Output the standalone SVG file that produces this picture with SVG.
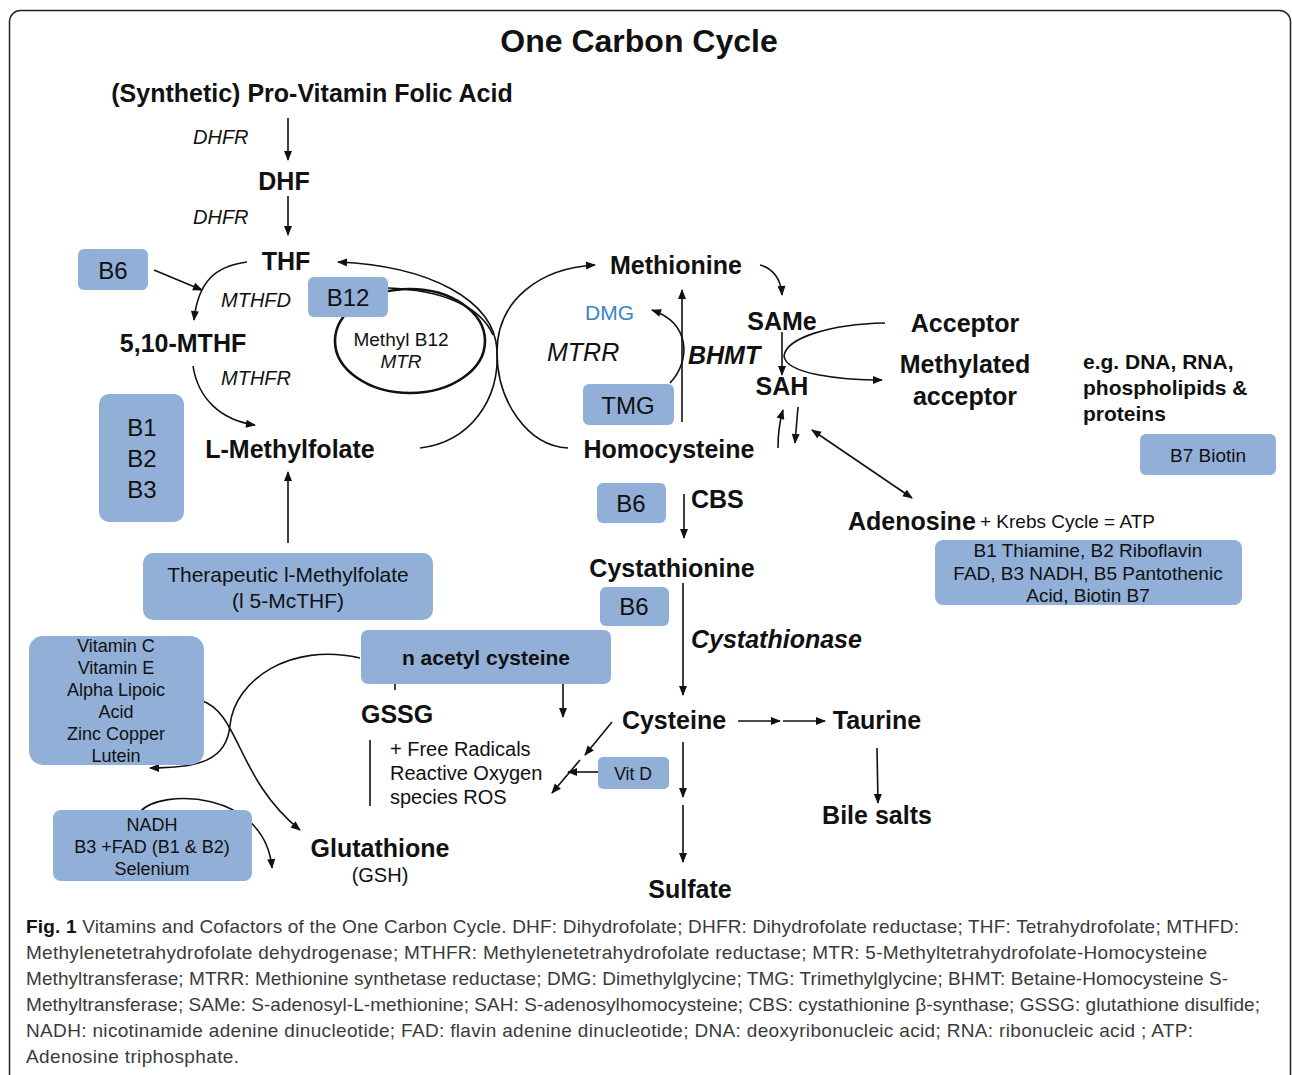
<svg xmlns="http://www.w3.org/2000/svg" width="1292" height="1075" viewBox="0 0 1292 1075">
<defs>
<marker id="ah" viewBox="0 0 10 10" refX="9" refY="5" markerWidth="11" markerHeight="10" markerUnits="userSpaceOnUse" orient="auto-start-reverse">
<path d="M0,1 L10,5 L0,9 z" fill="#111"/>
</marker>
<style>
text{font-family:"Liberation Sans",Arial,sans-serif;fill:#111}
.n{font-size:25px;font-weight:bold}
.c{text-anchor:middle}
.e{font-size:20px;font-style:italic}
.box{fill:#91afd7;stroke:none}
.bt{font-size:24px}
.st{font-size:19px}
.ln{fill:none;stroke:#111;stroke-width:1.6}
.a{marker-end:url(#ah)}
.cap{font-size:19px;fill:#3a3a3a}
</style>
</defs>
<rect x="9.5" y="10.5" width="1281" height="1100" rx="11" fill="#fff" stroke="#222" stroke-width="1.5"/>
<text x="639" y="52" class="c" style="font-size:32px;font-weight:bold">One Carbon Cycle</text>

<g id="connectors">
<path class="ln a" d="M288 118 V160"/>
<path class="ln a" d="M288 196 V235"/>
<path class="ln a" d="M154 270 L202 290"/>
<path class="ln a" d="M247 262 C215 266 198 282 194 320"/>
<path class="ln a" d="M193 366 C198 398 220 420 255 425"/>
<path class="ln a" d="M288 543 V472"/>
<ellipse cx="410" cy="341" rx="75" ry="52" fill="none" stroke="#111" stroke-width="2.6"/>
<path class="ln a" d="M420 448 C470 442 500 400 497 350 C494 300 430 266 338 262"/>
<path class="ln" d="M388 288 C440 290 480 305 493 335"/>
<path class="ln a" d="M568 448 C528 446 497 402 497 352 C497 300 540 268 595 265"/>
<path class="ln a" d="M760 265 C772 268 781 278 782 295"/>
<path class="ln a" d="M682 422 V290"/>
<path class="ln a" d="M670 383 C690 362 692 324 652 310"/>
<path class="ln a" d="M782 332 V375"/>
<path class="ln a" d="M885 323 C830 324 786 338 784 356 C786 374 840 380 882 380"/>
<path class="ln a" d="M778 448 C778 432 780 420 783 410"/>
<path class="ln a" d="M798 407 L795 443"/>
<path class="ln a" d="M912 498 L812 430" style="marker-start:url(#ah)"/>
<path class="ln a" d="M684 494 V538"/>
<path class="ln a" d="M683 583 V695"/>
<path class="ln a" d="M738 721 H780"/>
<path class="ln a" d="M783 721 H825"/>
<path class="ln a" d="M877 748 L878 803"/>
<path class="ln a" d="M683 742 V797"/>
<path class="ln a" d="M683 805 V862"/>
<path class="ln a" d="M612 722 L585 755"/>
<path class="ln a" d="M580 760 L552 793"/>
<path class="ln a" d="M598 772 H568"/>
<path class="ln a" d="M563 684 V717"/>
<path class="ln" d="M395 684 V690"/>
<path class="ln" d="M370 740 V806"/>
<path class="ln a" d="M360 658 C290 642 235 680 230 725 C227 760 200 768 150 768"/>
<path class="ln a" d="M200 700 C240 712 236 778 300 830"/>
<path class="ln a" d="M140 812 C160 788 265 790 272 868"/>
</g>

<g id="folic-acid"><text x="312" y="102" class="c" style="font-size:25px;font-weight:bold">(Synthetic) Pro-Vitamin Folic Acid</text></g>
<g id="dhfr1"><text x="193" y="144" class="e">DHFR</text></g>
<g id="dhf"><text x="284" y="190" class="n c">DHF</text></g>
<g id="dhfr2"><text x="193" y="224" class="e">DHFR</text></g>
<g id="thf"><text x="286" y="270" class="n c">THF</text></g>
<g id="b6-top"><rect class="box" x="78" y="249" width="70" height="41" rx="6"/><text x="113" y="279" class="bt c">B6</text></g>
<g id="mthfd"><text x="221" y="307" class="e">MTHFD</text></g>
<g id="mthf"><text x="183" y="352" class="n c">5,10-MTHF</text></g>
<g id="mthfr"><text x="221" y="385" class="e">MTHFR</text></g>
<g id="b12"><rect class="box" x="308" y="277" width="80" height="40" rx="6"/><text x="348" y="306" class="bt c">B12</text></g>
<g id="methyl-b12"><text x="401" y="346" class="st c">Methyl B12</text><text x="401" y="368" class="st c" font-style="italic">MTR</text></g>
<g id="b123"><rect class="box" x="99" y="394" width="85" height="128" rx="10"/><text x="142" y="436" class="bt c">B1</text><text x="142" y="467" class="bt c">B2</text><text x="142" y="498" class="bt c">B3</text></g>
<g id="l-methylfolate"><text x="290" y="458" class="n c">L-Methylfolate</text></g>
<g id="therapeutic"><rect class="box" x="143" y="553" width="290" height="67" rx="10"/><text x="288" y="582" class="c" style="font-size:21px">Therapeutic l-Methylfolate</text><text x="288" y="608" class="c" style="font-size:21px">(l 5-McTHF)</text></g>

<g id="methionine"><text x="676" y="274" class="n c">Methionine</text></g>
<g id="dmg"><text x="585" y="320" style="font-size:21px;fill:#3a85c6">DMG</text></g>
<g id="mtrr"><text x="547" y="361" style="font-size:25px;font-style:italic">MTRR</text></g>
<g id="bhmt"><text x="688" y="364" style="font-size:25px;font-style:italic;font-weight:bold">BHMT</text></g>
<g id="tmg"><rect class="box" x="583" y="384" width="91" height="41" rx="6"/><text x="628" y="414" class="bt c">TMG</text></g>
<g id="homocysteine"><text x="669" y="458" class="n c">Homocysteine</text></g>
<g id="same"><text x="782" y="330" class="n c">SAMe</text></g>
<g id="sah"><text x="782" y="395" class="n c">SAH</text></g>
<g id="acceptor"><text x="965" y="332" class="n c">Acceptor</text></g>
<g id="methylated"><text x="965" y="373" class="n c">Methylated</text><text x="965" y="405" class="n c">acceptor</text></g>
<g id="eg"><text x="1083" y="369" style="font-size:21px;font-weight:bold">e.g. DNA, RNA,</text><text x="1083" y="395" style="font-size:21px;font-weight:bold">phospholipids &amp;</text><text x="1083" y="421" style="font-size:21px;font-weight:bold">proteins</text></g>
<g id="b7"><rect class="box" x="1140" y="434" width="136" height="41" rx="6"/><text x="1208" y="462" class="st c">B7 Biotin</text></g>
<g id="adenosine"><text x="848" y="530" class="n">Adenosine</text><text x="980" y="528" class="st">+ Krebs Cycle = ATP</text></g>
<g id="krebs-cofactors"><rect class="box" x="935" y="540" width="307" height="65" rx="8"/><text x="1088" y="557" class="st c">B1 Thiamine, B2 Riboflavin</text><text x="1088" y="580" class="st c">FAD, B3 NADH, B5 Pantothenic</text><text x="1088" y="602" class="st c">Acid, Biotin B7</text></g>

<g id="b6-cbs"><rect class="box" x="597" y="483" width="69" height="40" rx="6"/><text x="631" y="512" class="bt c">B6</text></g>
<g id="cbs"><text x="691" y="508" class="n">CBS</text></g>
<g id="cystathionine"><text x="672" y="577" class="n c">Cystathionine</text></g>
<g id="b6-cyst"><rect class="box" x="600" y="587" width="69" height="39" rx="6"/><text x="634" y="615" class="bt c">B6</text></g>
<g id="cystathionase"><text x="691" y="648" style="font-size:25px;font-style:italic;font-weight:bold">Cystathionase</text></g>
<g id="cysteine"><text x="674" y="729" class="n c">Cysteine</text></g>
<g id="taurine"><text x="877" y="729" class="n c">Taurine</text></g>
<g id="bile"><text x="877" y="824" class="n c">Bile salts</text></g>
<g id="sulfate"><text x="690" y="898" class="n c">Sulfate</text></g>
<g id="vitd"><rect class="box" x="598" y="757" width="71" height="32" rx="5"/><text x="633" y="780" class="c" style="font-size:17.5px">Vit D</text></g>

<g id="nac"><rect class="box" x="361" y="630" width="250" height="54" rx="7"/><text x="486" y="665" class="c" style="font-size:21px;font-weight:bold">n acetyl cysteine</text></g>
<g id="gssg"><text x="361" y="723" class="n">GSSG</text></g>
<g id="ros"><text x="390" y="756" style="font-size:20px">+ Free Radicals</text><text x="390" y="780" style="font-size:20px">Reactive Oxygen</text><text x="390" y="804" style="font-size:20px">species ROS</text></g>
<g id="antioxidants"><rect class="box" x="29" y="636" width="175" height="129" rx="14"/>
<text x="116" y="652" class="c" style="font-size:18px">Vitamin C</text>
<text x="116" y="674" class="c" style="font-size:18px">Vitamin E</text>
<text x="116" y="696" class="c" style="font-size:18px">Alpha Lipoic</text>
<text x="116" y="718" class="c" style="font-size:18px">Acid</text>
<text x="116" y="740" class="c" style="font-size:18px">Zinc Copper</text>
<text x="116" y="762" class="c" style="font-size:18px">Lutein</text></g>
<g id="nadh"><rect class="box" x="53" y="810" width="199" height="71" rx="8"/>
<text x="152" y="831" class="c" style="font-size:18px">NADH</text>
<text x="152" y="853" class="c" style="font-size:18px">B3 +FAD (B1 &amp; B2)</text>
<text x="152" y="875" class="c" style="font-size:18px">Selenium</text></g>
<g id="glutathione"><text x="380" y="857" class="n c">Glutathione</text><text x="380" y="882" class="c" style="font-size:20px">(GSH)</text></g>

<g id="caption">
<text x="26" y="933" class="cap" textLength="1213" lengthAdjust="spacing"><tspan style="font-weight:bold;fill:#111">Fig. 1</tspan> Vitamins and Cofactors of the One Carbon Cycle. DHF: Dihydrofolate; DHFR: Dihydrofolate reductase; THF: Tetrahydrofolate; MTHFD:</text>
<text x="26" y="959" class="cap" textLength="1181" lengthAdjust="spacing">Methylenetetrahydrofolate dehydrogenase; MTHFR: Methylenetetrahydrofolate reductase; MTR: 5-Methyltetrahydrofolate-Homocysteine</text>
<text x="26" y="985" class="cap" textLength="1202" lengthAdjust="spacing">Methyltransferase; MTRR: Methionine synthetase reductase; DMG: Dimethylglycine; TMG: Trimethylglycine; BHMT: Betaine-Homocysteine S-</text>
<text x="26" y="1011" class="cap" textLength="1234" lengthAdjust="spacing">Methyltransferase; SAMe: S-adenosyl-L-methionine; SAH: S-adenosylhomocysteine; CBS: cystathionine β-synthase; GSSG: glutathione disulfide;</text>
<text x="26" y="1037" class="cap" textLength="1167" lengthAdjust="spacing">NADH: nicotinamide adenine dinucleotide; FAD: flavin adenine dinucleotide; DNA: deoxyribonucleic acid; RNA: ribonucleic acid ; ATP:</text>
<text x="26" y="1063" class="cap" textLength="213" lengthAdjust="spacing">Adenosine triphosphate.</text>
</g>
</svg>
